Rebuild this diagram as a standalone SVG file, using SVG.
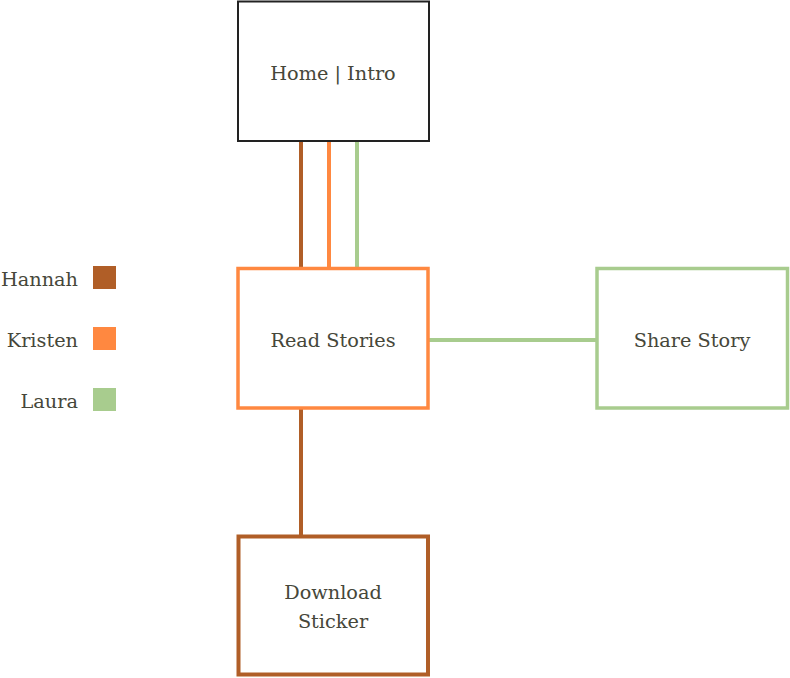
<svg xmlns="http://www.w3.org/2000/svg" width="790" height="678" viewBox="0 0 790 678">
<style>
text{font-family:"DejaVu Serif","Liberation Serif",serif;font-size:19.3px;fill:#46473a;}
.c{text-anchor:middle}
.r{text-anchor:end}
.box{fill:#fff}
.br{stroke:#b05e27}
.or{stroke:#ff8840}
.gr{stroke:#a8cc8e}
</style>
<rect width="790" height="678" fill="#fff"/>
<g id="connectors" fill="none" stroke-width="4">
<line class="br" x1="301" y1="141" x2="301" y2="268"/>
<line class="or" x1="329" y1="141" x2="329" y2="268"/>
<line class="gr" x1="357" y1="141" x2="357" y2="268"/>
<line class="gr" x1="429" y1="340" x2="596" y2="340"/>
<line class="br" x1="301" y1="408" x2="301" y2="536"/>
</g>
<g id="home">
<rect class="box" x="238" y="1.5" width="191" height="139.5" stroke="#222" stroke-width="2"/>
<text class="c" x="333" y="80">Home | Intro</text>
</g>
<g id="read">
<rect class="box or" x="238" y="268.5" width="190" height="139.5" stroke-width="3.5"/>
<text class="c" x="333" y="347">Read Stories</text>
</g>
<g id="share">
<rect class="box gr" x="597" y="268.5" width="190.5" height="139.5" stroke-width="3.5"/>
<text class="c" x="692" y="347">Share Story</text>
</g>
<g id="download">
<rect class="box br" x="238.5" y="536.5" width="189.5" height="138" stroke-width="4"/>
<text class="c" x="333" y="599">Download</text>
<text class="c" x="333" y="628">Sticker</text>
</g>
<g id="legend">
<rect x="93" y="266" width="23" height="23" fill="#b05e27"/>
<text class="r" x="78" y="286">Hannah</text>
<rect x="93" y="327" width="23" height="23" fill="#ff8840"/>
<text class="r" x="78" y="347">Kristen</text>
<rect x="93" y="388" width="23" height="23" fill="#a8cc8e"/>
<text class="r" x="78" y="408">Laura</text>
</g>
</svg>
